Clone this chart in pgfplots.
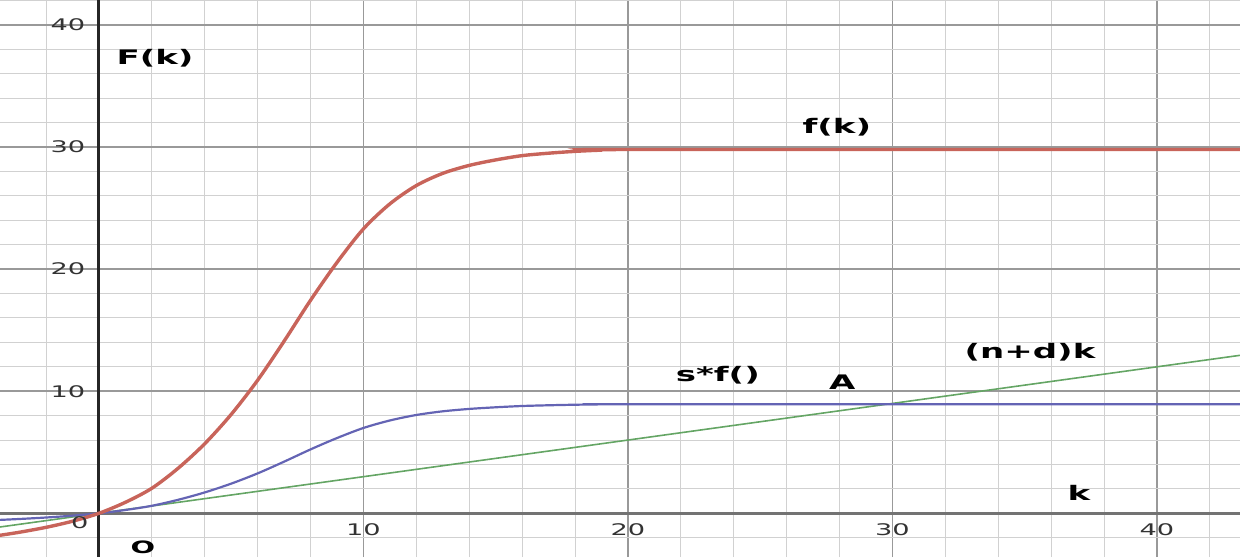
\documentclass[border=0pt]{standalone}
\usepackage{fontspec}
\setmainfont[FakeStretch=1.7]{DejaVu Sans}
\usepackage{pgfplots}
\pgfplotsset{compat=1.18}
\definecolor{fred}{RGB}{200,100,90}
\definecolor{fblue}{RGB}{100,100,180}
\definecolor{fgreen}{RGB}{100,165,100}
\begin{document}
\begin{tikzpicture}
\begin{axis}[
 scale only axis, width=620pt, height=278.5pt,
 xmin=-3.74, xmax=43.14, ymin=-3.58, ymax=42.05,
 axis lines=middle,
 x axis line style={-, line width=1.2pt, draw=black!55},
 y axis line style={-, line width=1.5pt, draw=black!85},
 xtick={10,20,30,40}, ytick={10,20,30,40},
 minor xtick={-2,2,4,6,8,12,14,16,18,22,24,26,28,32,34,36,38,42},
 minor ytick={-2,2,4,6,8,12,14,16,18,22,24,26,28,32,34,36,38,42},
 grid=both,
 major grid style={draw=black!40, line width=0.9pt},
 minor grid style={draw=black!18, line width=0.5pt},
 major tick length=0pt, minor tick length=0pt,
 tick label style={font=\fontsize{8}{9}\selectfont, text=black!80},
 /pgf/number format/assume math mode=true,
 xticklabel style={anchor=north, yshift=-1.5pt},
 yticklabel style={anchor=east, xshift=-3.3pt},
 clip=true,
]
\addplot[fgreen, line width=0.8pt] coordinates {(-3.74,-1.122) (43.14,12.942)};
\addplot[fblue, line width=1.1pt, smooth] coordinates {
(-3.74,-0.54) (-3,-0.465) (-2,-0.345) (-1,-0.195) (0,0) (1,0.27) (2,0.615)
(3,1.11) (4,1.71) (5,2.43) (6,3.27) (7,4.23) (8,5.235) (9,6.165) (10,6.99)
(11,7.605) (12,8.055) (13,8.355) (14,8.55) (15,8.685) (16,8.79) (17,8.85)
(18,8.895) (19,8.925) (20,8.94) (43.14,8.94)};
\addplot[fred, line width=1.7pt, smooth] coordinates {
(-3.74,-1.8) (-3,-1.55) (-2,-1.15) (-1,-0.65) (0,0) (1,0.9) (2,2.05)
(3,3.7) (4,5.7) (5,8.1) (6,10.9) (7,14.1) (8,17.45) (9,20.55) (10,23.3)
(11,25.35) (12,26.85) (13,27.85) (14,28.5) (15,28.95) (16,29.3) (17,29.5)
(18,29.65) (19,29.75) (20,29.8) (43.14,29.8)};
\node[font=\fontsize{10}{12}\selectfont\bfseries] at (axis cs:2.12,37.3) {F(k)};
\node[font=\fontsize{10}{12}\selectfont\bfseries] at (axis cs:27.9,31.6) {f(k)};
\node[font=\fontsize{10}{12}\selectfont\bfseries] at (axis cs:23.4,11.3) {s*f()};
\node[font=\fontsize{10}{12}\selectfont\bfseries] at (axis cs:28.1,10.75) {A};
\node[font=\fontsize{10}{12}\selectfont\bfseries] at (axis cs:35.2,13.2) {(n+d)k};
\node[font=\fontsize{10}{12}\selectfont\bfseries] at (axis cs:37.05,1.67) {k};
\node[font=\fontsize{8.5}{10}\selectfont\bfseries] at (axis cs:1.66,-2.8) {O};
\node[font=\fontsize{8}{9}\selectfont, text=black!80] at (axis cs:-0.72,-0.8) {0};
\end{axis}
\pgfresetboundingbox
\path (current axis.south west) rectangle (current axis.north east);
\end{tikzpicture}
\end{document}
